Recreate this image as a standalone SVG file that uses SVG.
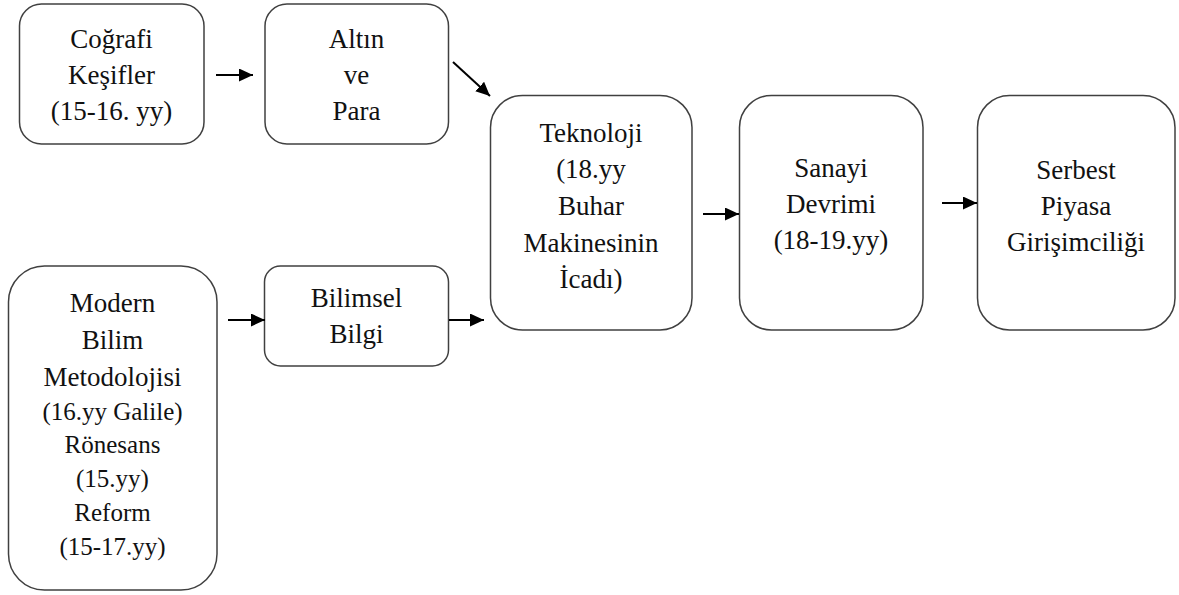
<svg xmlns="http://www.w3.org/2000/svg" width="1179" height="595" viewBox="0 0 1179 595">
<style>
.box{fill:#fff;stroke:#404040;stroke-width:1.5}
.t{font-family:"Liberation Serif","Times New Roman",serif;font-size:27px;fill:#111;text-anchor:middle}
.s{font-size:25px}
.c{stroke:#000;stroke-width:2;fill:none}
</style>
<defs>
<marker id="ah" markerWidth="14" markerHeight="13" refX="14" refY="6.5" orient="auto" markerUnits="userSpaceOnUse" viewBox="0 0 14 13">
<path d="M0,0 L14,6.5 L0,13 Z" fill="#000"/>
</marker>
</defs>
<rect width="1179" height="595" fill="#fff"/>
<g id="cografi">
<rect class="box" x="19.5" y="4" width="184.5" height="140" rx="22"/>
<text class="t" x="111.5" y="48">Coğrafi</text>
<text class="t" x="111.5" y="84">Keşifler</text>
<text class="t" x="111.5" y="120">(15-16. yy)</text>
</g>
<g id="altin">
<rect class="box" x="265" y="4" width="183.5" height="140" rx="22"/>
<text class="t" x="356.5" y="48">Altın</text>
<text class="t" x="356.5" y="84">ve</text>
<text class="t" x="356.5" y="120">Para</text>
</g>
<g id="modern">
<rect class="box" x="8.5" y="266" width="208.5" height="324" rx="36"/>
<text class="t" x="112.5" y="312">Modern</text>
<text class="t" x="112.5" y="349">Bilim</text>
<text class="t" x="112.5" y="386">Metodolojisi</text>
<text class="t s" x="112.5" y="420">(16.yy Galile)</text>
<text class="t s" x="112.5" y="453">Rönesans</text>
<text class="t s" x="112.5" y="487">(15.yy)</text>
<text class="t s" x="112.5" y="521">Reform</text>
<text class="t s" x="112.5" y="555">(15-17.yy)</text>
</g>
<g id="bilimsel">
<rect class="box" x="264.5" y="266" width="184" height="100" rx="16"/>
<text class="t" x="356.5" y="307">Bilimsel</text>
<text class="t" x="356.5" y="343">Bilgi</text>
</g>
<g id="teknoloji">
<rect class="box" x="490.5" y="95.5" width="201.5" height="234.5" rx="32"/>
<text class="t" x="591" y="142">Teknoloji</text>
<text class="t" x="591" y="178">(18.yy</text>
<text class="t" x="591" y="215">Buhar</text>
<text class="t" x="591" y="252">Makinesinin</text>
<text class="t" x="591" y="288">İcadı)</text>
</g>
<g id="sanayi">
<rect class="box" x="739.5" y="95.5" width="183.5" height="234.5" rx="32"/>
<text class="t" x="831" y="177">Sanayi</text>
<text class="t" x="831" y="213">Devrimi</text>
<text class="t" x="831" y="249">(18-19.yy)</text>
</g>
<g id="serbest">
<rect class="box" x="977.5" y="95.5" width="197.5" height="234.5" rx="32"/>
<text class="t" x="1076" y="179">Serbest</text>
<text class="t" x="1076" y="215">Piyasa</text>
<text class="t" x="1076" y="251">Girişimciliği</text>
</g>
<g id="connectors">
<line class="c" x1="216" y1="75" x2="253" y2="75" marker-end="url(#ah)"/>
<line class="c" x1="453" y1="62" x2="490" y2="96" marker-end="url(#ah)"/>
<line class="c" x1="228" y1="320" x2="265" y2="320" marker-end="url(#ah)"/>
<line class="c" x1="449" y1="320" x2="484" y2="320" marker-end="url(#ah)"/>
<line class="c" x1="703" y1="214" x2="739" y2="214" marker-end="url(#ah)"/>
<line class="c" x1="942" y1="203" x2="977" y2="203" marker-end="url(#ah)"/>
</g>
</svg>
